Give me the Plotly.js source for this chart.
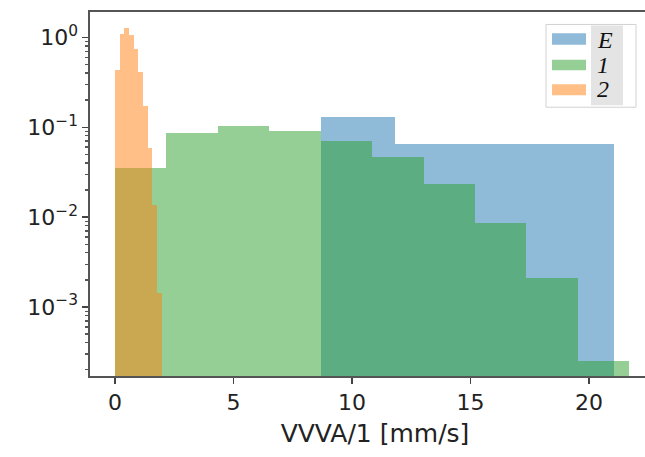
<!DOCTYPE html>
<html>
<head>
<meta charset="utf-8">
<script src="https://cdn.plot.ly/plotly-3.0.1.min.js"></script>
<style>
html,body{margin:0;padding:0;overflow:hidden;background:#fff;}
#chart{width:662px;height:457px;}
</style>
</head>
<body>
<div id="chart"></div>
<script>
// Series names
const seriesNames = ['E', '1', '2'];

// Bin edges (mm/s)
const edgesE = [8.7, 11.8, 14.9, 18.0, 21.05];
const edges1 = [0, 2.17, 4.34, 6.51, 8.68, 10.85, 13.02, 15.19, 17.36, 19.53, 21.7];
const edges2 = [0, 0.197, 0.394, 0.591, 0.788, 0.985, 1.182, 1.379, 1.576, 1.773, 1.97];

// Densities (log scale)
const densE = [0.13, 0.0646, 0.0646, 0.0646];
const dens1 = [0.0353, 0.0855, 0.103, 0.0908, 0.0703, 0.046, 0.0231, 0.00853, 0.00208, 0.000254];
const dens2 = [0.427, 1.09, 1.26, 1.07, 0.743, 0.409, 0.171, 0.058, 0.0136, 0.00145];

// Axis ticks
const xTickVals = [0, 5, 10, 15, 20];
const yTickVals = [1, 0.1, 0.01, 0.001];
const yTickText = ['10<sup>0</sup>', '10<sup>\u22121</sup>', '10<sup>\u22122</sup>', '10<sup>\u22123</sup>'];
const xTitle = 'VVVA/1 [mm/s]';

const colors = ['rgba(31,119,180,0.5)', 'rgba(44,160,44,0.5)', 'rgba(255,127,14,0.5)'];

function barTrace(edges, dens, color, name) {
  const x = [], w = [];
  for (let i = 0; i < dens.length; i++) {
    x.push((edges[i] + edges[i + 1]) / 2);
    w.push(edges[i + 1] - edges[i]);
  }
  return {type: 'bar', x: x, y: dens, width: w, name: name,
          marker: {color: color, line: {width: 0}}, showlegend: false, hoverinfo: 'x+y'};
}

const data = [
  barTrace(edgesE, densE, colors[0], seriesNames[0]),
  barTrace(edges1, dens1, colors[1], seriesNames[1]),
  barTrace(edges2, dens2, colors[2], seriesNames[2])
];

// legend geometry helpers (pixel -> paper)
const L = 90, R = 660, T = 11.5, B = 376.5;
const px = v => (v - L) / (R - L);
const py = v => (B - v) / (B - T);

const shapes = [
  {type: 'rect', xref: 'paper', yref: 'paper', x0: px(546), x1: px(636), y0: py(107), y1: py(24),
   line: {color: '#d2d2d2', width: 1}, fillcolor: 'rgba(255,255,255,0.9)'},
  {type: 'rect', xref: 'paper', yref: 'paper', x0: px(591), x1: px(623), y0: py(105), y1: py(25),
   line: {width: 0}, fillcolor: '#e4e4e4'}
];
const patchY = [[32.7, 44.3], [59.3, 70], [84, 95]];
const textY = [40, 65, 89];
const annotations = [];
for (let i = 0; i < 3; i++) {
  shapes.push({type: 'rect', xref: 'paper', yref: 'paper', x0: px(552), x1: px(586),
    y0: py(patchY[i][1]), y1: py(patchY[i][0]), line: {width: 0}, fillcolor: colors[i]});
  annotations.push({xref: 'paper', yref: 'paper', x: px(595), y: py(textY[i]), xanchor: 'left', yanchor: 'middle',
    text: '<i>' + seriesNames[i] + '</i>', showarrow: false,
    font: {family: 'Liberation Serif, Times New Roman, serif', size: 24, color: '#111'}});
}

const layout = {
  width: 662, height: 457,
  margin: {l: L, r: 662 - R, t: T, b: 457 - B},
  paper_bgcolor: '#fff', plot_bgcolor: '#fff',
  barmode: 'overlay', bargap: 0,
  showlegend: false,
  font: {family: 'DejaVu Sans, sans-serif', color: '#222'},
  xaxis: {
    range: [-1.055, 23.0], tickmode: 'array', tickvals: xTickVals,
    ticks: 'outside', ticklen: 6, tickwidth: 1.2, tickcolor: '#444',
    showline: true, linecolor: '#555', linewidth: 1.6, mirror: true,
    showgrid: false, zeroline: false,
    tickfont: {size: 22, family: 'DejaVu Sans, sans-serif', color: '#222'},
    title: {text: xTitle, font: {size: 25, family: 'DejaVu Sans, sans-serif', color: '#222'}, standoff: 10}
  },
  yaxis: {
    type: 'log', range: [-3.767, 0.28], tickmode: 'array', tickvals: yTickVals, ticktext: yTickText,
    ticks: 'outside', ticklen: 6, tickwidth: 1.2, tickcolor: '#444',
    minor: {ticks: 'outside', ticklen: 3, tickcolor: '#555', dtick: 'D1', showgrid: false},
    showline: true, linecolor: '#555', linewidth: 1.6,
    showgrid: false, zeroline: false,
    tickfont: {size: 22, family: 'DejaVu Sans, sans-serif', color: '#222'}
  },
  shapes: shapes,
  annotations: annotations
};

Plotly.newPlot('chart', data, layout, {displayModeBar: false, staticPlot: true});
</script>
</body>
</html>
